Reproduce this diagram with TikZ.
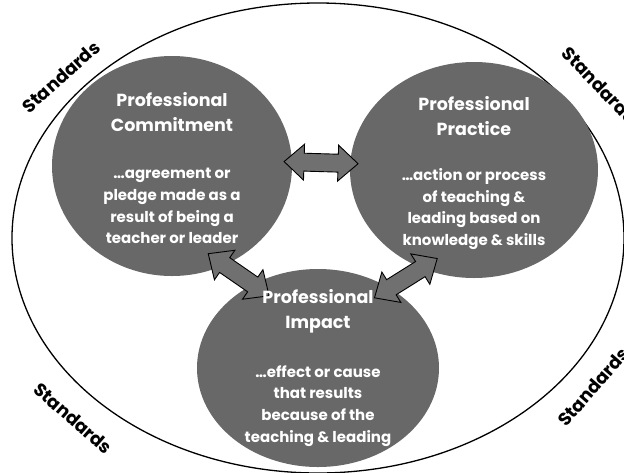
\documentclass[tikz,border=0pt]{standalone}
\usepackage{fontspec}
\setmainfont{Poppins}
\usetikzlibrary{shapes.geometric,shapes.arrows,positioning}
\definecolor{bubblegray}{RGB}{104,104,104}
\definecolor{arrowgray}{RGB}{112,112,112}

\begin{document}
\begin{tikzpicture}[
    x=1pt, y=-1pt,
    bubble/.style={ellipse, fill=bubblegray, inner sep=0pt},
    bubbletitle/.style={text=white, align=center, inner sep=0pt, font=\fontsize{17.5}{25}\selectfont\bfseries},
    bubblebody/.style={text=white, align=center, inner sep=0pt, font=\fontsize{15}{21.8}\selectfont\bfseries},
    dblarrow/.style={double arrow, draw=black, line width=0.9pt, fill=arrowgray,
        minimum height=74pt, inner sep=8.5pt,
        double arrow head extend=9pt, double arrow tip angle=84},
    std/.style={font=\fontsize{18}{20}\selectfont\bfseries, inner sep=0pt}
]
\useasboundingbox (0,0) rectangle (624,472);
\clip (0,0) rectangle (624,472);

% Cornice esterna
\node[ellipse, draw=black, line width=1.3pt, minimum width=612pt, minimum height=470pt] (frame) at (318,238) {};

% Cerchi
\node[bubble, minimum width=240pt, minimum height=220pt] (commit) at (172,166) {};
\node[bubble, minimum width=248pt, minimum height=216pt] (practice) at (474,170) {};
\node[bubble, minimum width=242pt, minimum height=198pt] (impact) at (318,368) {};

% Frecce doppie
\path (commit.2) -- node[dblarrow, sloped] (arrow-cp) {} (practice.177);
\path (commit.-62) -- node[dblarrow, sloped] (arrow-ci) {} (impact.128);
\path (practice.-118) -- node[dblarrow, sloped] (arrow-pi) {} (impact.48);

% Testi
\node[bubbletitle] (commit-ttl) at ([yshift=54pt]commit.center) {Professional\\Commitment};
\node[bubblebody] (commit-def) at ([yshift=-40pt]commit.center) {\dots agreement or\\pledge made as a\\result of being a\\teacher or leader};

\node[bubbletitle] (practice-ttl) at ([yshift=54pt]practice.center) {Professional\\Practice};
\node[bubblebody] (practice-def) at ([yshift=-39pt]practice.center) {\dots action or process\\of teaching \&\\leading based on\\knowledge \& skills};

\node[bubbletitle] (impact-ttl) at ([yshift=57pt]impact.center) {Professional\\Impact};
\node[bubblebody] (impact-def) at ([yshift=-38pt]impact.center) {\dots effect or cause\\that results\\because of the\\teaching \& leading};

% Standards
\node[std, rotate=42] (std-nw) at (61,77) {Standards};
\node[std, rotate=-46] (std-ne) at (599,85) {Standards};
\node[std, rotate=-41] (std-sw) at (73,418) {Standards};
\node[std, rotate=49] (std-se) at (593,387) {Standards};

\end{tikzpicture}
\end{document}
